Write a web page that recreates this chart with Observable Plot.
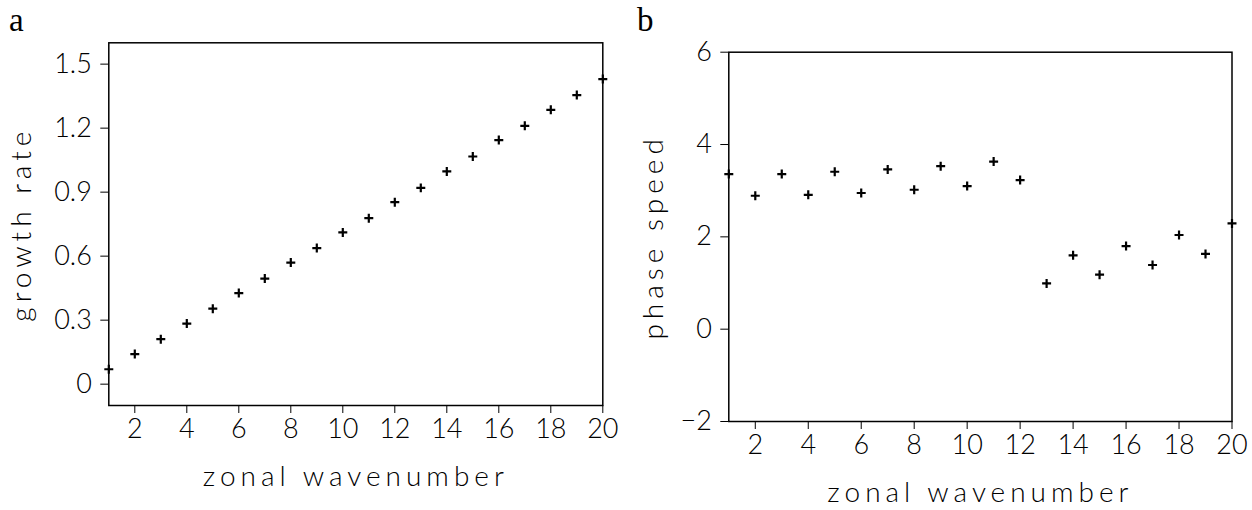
<!DOCTYPE html>
<html>
<head>
<meta charset="utf-8">
<script src="https://cdn.jsdelivr.net/npm/d3@7"></script>
<script src="https://cdn.jsdelivr.net/npm/@observablehq/plot@0.6"></script>
<style>
  html, body { margin: 0; padding: 0; background: #fff; }
  #wrap { position: relative; width: 1252px; height: 510px; overflow: hidden; background: #fff; }
  .panel { position: absolute; top: 0; z-index: 1; }
  .tag { position: absolute; z-index: 2; font-family: "Liberation Serif", "DejaVu Serif", serif; font-size: 33px; color: #000; line-height: 1; }
  svg [aria-label$="axis label"] text { letter-spacing: 5px; font-size: 28px; }
</style>
</head>
<body>
<div id="wrap">
  <div id="pa" class="panel" style="left:0px;"></div>
  <div id="pb" class="panel" style="left:620px;"></div>
  <div class="tag" style="left:9px; top:4px;">a</div>
  <div class="tag" style="left:637px; top:4px;">b</div>
</div>
<script>
// Data
const wavenumber = [1,2,3,4,5,6,7,8,9,10,11,12,13,14,15,16,17,18,19,20];
const growthRate = [0.070,0.141,0.211,0.284,0.354,0.427,0.495,0.570,0.638,0.711,0.778,0.853,0.920,0.997,1.067,1.144,1.211,1.286,1.355,1.430];
const phaseSpeed = [3.36,2.89,3.36,2.91,3.41,2.95,3.46,3.02,3.53,3.10,3.63,3.23,0.99,1.60,1.18,1.80,1.39,2.04,1.63,2.29];
const xTicks = [2,4,6,8,10,12,14,16,18,20];
const growthTicks = [0,0.3,0.6,0.9,1.2,1.5];
const speedTicks = [-2,0,2,4,6];

const fontFamily = "Lato, 'Open Sans', 'DejaVu Sans', sans-serif";

function panel(values, yDomain, yTicks, yFmt, yLabel, opts) {
  const rows = wavenumber.map((k, i) => ({k, v: values[i]}));
  return Plot.plot({
    width: opts.width,
    height: 510,
    marginLeft: opts.left,
    marginRight: opts.width - opts.right,
    marginTop: opts.top,
    marginBottom: 510 - opts.bottom,
    style: {fontFamily, fontSize: "27px", fontWeight: 300, color: "#000", background: "transparent"},
    x: {domain: [1, 20], ticks: xTicks, tickSize: 8, tickPadding: 5, label: "zonal wavenumber", labelAnchor: "center", labelOffset: opts.xLabelOffset, labelArrow: "none"},
    y: {domain: yDomain, ticks: yTicks, tickFormat: yFmt, tickSize: 8, tickPadding: 9, label: yLabel, labelAnchor: "center", labelOffset: opts.yLabelOffset, labelArrow: "none"},
    marks: [
      Plot.frame({stroke: "#000", strokeWidth: 1.5}),
      Plot.dot(rows, {x: "k", y: "v", symbol: "plus", r: 3, stroke: "#000", strokeWidth: 2.2, clip: false})
    ]
  });
}

const a = panel(growthRate, [-0.1, 1.6], growthTicks, d => d === 0 ? "0" : d.toFixed(1), "growth rate",
  {width: 620, left: 108.3, right: 602.3, top: 42.3, bottom: 405, xLabelOffset: 80, yLabelOffset: 98});
const b = panel(phaseSpeed, [-2, 6], speedTicks, d => d < 0 ? "\u2212" + Math.abs(d) : String(d), "phase speed",
  {width: 632, left: 108.3, right: 611.5, top: 51.7, bottom: 421, xLabelOffset: 80, yLabelOffset: 86});
document.getElementById("pa").appendChild(a);
document.getElementById("pb").appendChild(b);
</script>
</body>
</html>
